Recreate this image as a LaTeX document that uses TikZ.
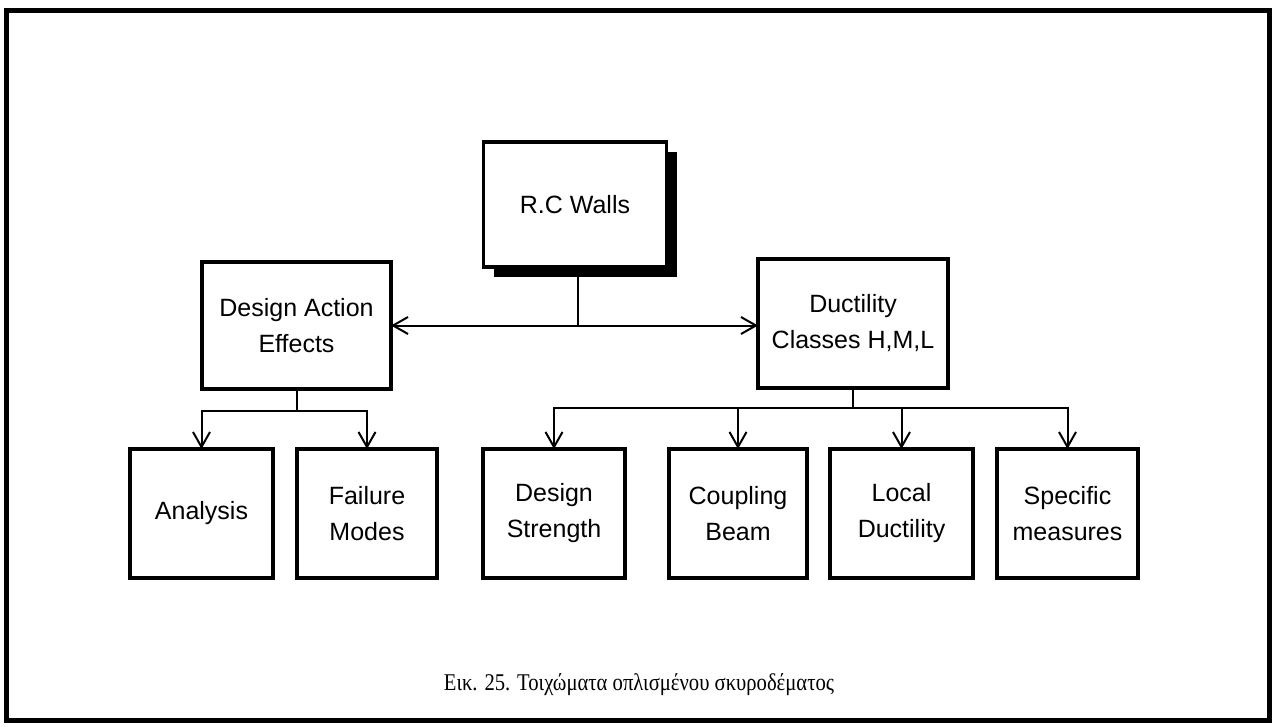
\documentclass[tikz,border=0pt]{standalone}
\usepackage{fontspec}
\setmainfont{Liberation Serif}
\newfontfamily\boxfont{Liberation Sans}
\newfontfamily\captionfont[FakeStretch=0.86]{Liberation Serif}
\usetikzlibrary{arrows.meta,shadows}

\tikzset{
  blockbox/.style={draw, line width=3.6pt, fill=white, inner sep=0pt, outer sep=0pt,
    align=center, font=\boxfont\fontsize{25}{36}\selectfont},
  topbox/.style={blockbox, font=\boxfont\fontsize{25}{36}\selectfont,
    drop shadow={shadow xshift=10pt, shadow yshift=-10pt, fill=black, opacity=1}},
  link/.style={line width=2pt},
  arrowlink/.style={link, -{Straight Barb[length=15pt,width=17pt,line width=2pt]}},
  bothlink/.style={link, {Straight Barb[length=15pt,width=17pt,line width=2pt]}-{Straight Barb[length=15pt,width=17pt,line width=2pt]}},
}

\begin{document}
\begin{tikzpicture}[x=1pt,y=-1pt]
  \useasboundingbox (0,0) rectangle (1275,726);
  % outer frame
  \draw[line width=5pt] (6,10) rectangle (1269,720);

  % top node
  \node[topbox, minimum width=183pt, minimum height=125pt] (rc) at (575,204.5) {R.C Walls};

  % second level
  \node[blockbox, minimum width=189pt, minimum height=127pt] (dae) at (296.5,325.5) {Design Action\\Effects};
  \node[blockbox, minimum width=190pt, minimum height=129pt] (duc) at (853,323.5) {Ductility\\Classes H,M,L};

  % third level
  \node[blockbox, minimum width=143pt, minimum height=129pt] (an) at (201.5,513.5) {Analysis};
  \node[blockbox, minimum width=140pt, minimum height=129pt] (fm) at (367,513.5) {Failure\\Modes};
  \node[blockbox, minimum width=142pt, minimum height=129pt] (ds) at (554,513.5) {Design\\Strength};
  \node[blockbox, minimum width=138pt, minimum height=129pt] (cb) at (738,513.5) {Coupling\\Beam};
  \node[blockbox, minimum width=143pt, minimum height=129pt] (ld) at (901.5,513.5) {Local\\Ductility};
  \node[blockbox, minimum width=141pt, minimum height=129pt] (sm) at (1067.5,513.5) {Specific\\measures};

  % bus levels
  \coordinate (busL) at (0,410.5);
  \coordinate (busR) at (0,407.5);

  % top connector
  \draw[link] ([xshift=3pt]rc.south) -- ([xshift=3pt]rc.south |- dae.east);
  \draw[bothlink] (dae.east) -- (dae.east -| duc.west);

  % left branch
  \draw[link] (dae.south) -- (dae.south |- busL);
  \draw[arrowlink] (dae.south |- busL) -| (an.north);
  \draw[arrowlink] (dae.south |- busL) -| (fm.north);

  % right branch
  \draw[link] (duc.south) -- (duc.south |- busR);
  \draw[arrowlink] (duc.south |- busR) -| (ds.north);
  \draw[arrowlink] (duc.south |- busR) -| (cb.north);
  \draw[arrowlink] (duc.south |- busR) -| (ld.north);
  \draw[arrowlink] (duc.south |- busR) -| (sm.north);

  % caption
  \node[font=\captionfont\fontsize{24}{28}\selectfont, inner sep=0pt] (cap) at (639,685) {Εικ. 25. Τοιχώματα οπλισμένου σκυροδέματος};
\end{tikzpicture}
\end{document}
